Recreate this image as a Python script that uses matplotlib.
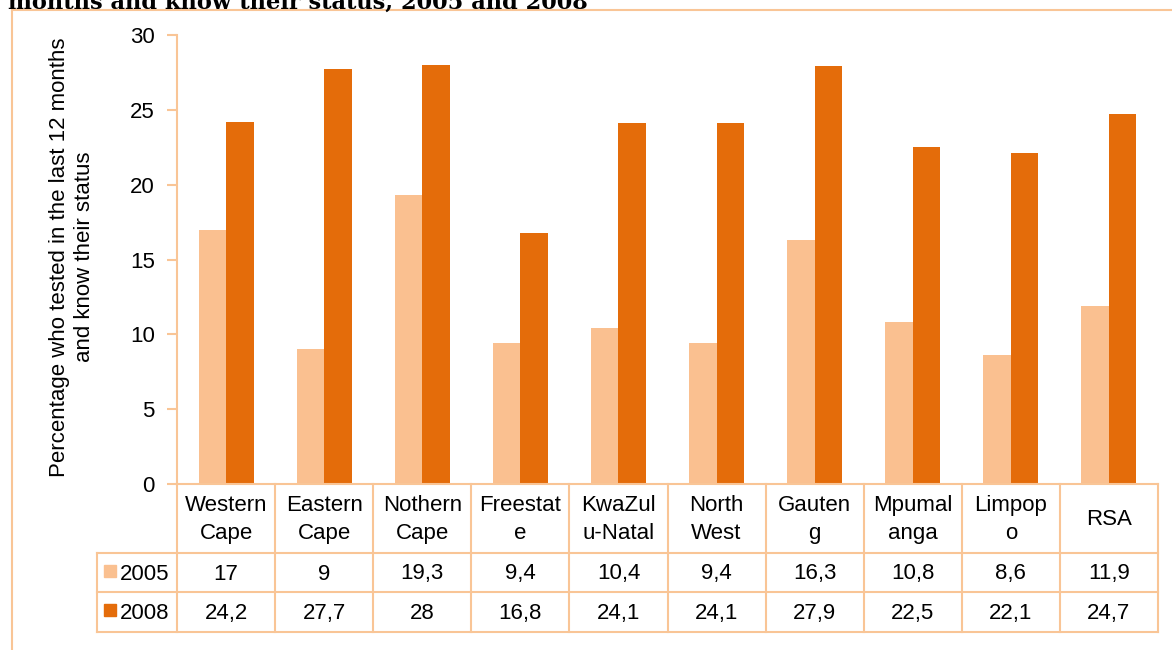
import matplotlib.pyplot as plt
from matplotlib.patches import Rectangle
from matplotlib.lines import Line2D
import matplotlib.transforms as mtransforms

plt.rcParams['font.family'] = ['Liberation Sans', 'DejaVu Sans']

# Data
regions = ['Western\nCape', 'Eastern\nCape', 'Nothern\nCape', 'Freestat\ne', 'KwaZul\nu-Natal',
           'North\nWest', 'Gauten\ng', 'Mpumal\nanga', 'Limpop\no', 'RSA']
years = ['2005', '2008']
vals_2005 = [17, 9, 19.3, 9.4, 10.4, 9.4, 16.3, 10.8, 8.6, 11.9]
vals_2008 = [24.2, 27.7, 28, 16.8, 24.1, 24.1, 27.9, 22.5, 22.1, 24.7]

c_light = '#FAC090'
c_dark = '#E46C0A'
grid_c = '#F9C596'

W, H = 1172, 650
fig = plt.figure(figsize=(W / 100, H / 100), dpi=100)

# axes in pixel geometry
x0, x1, ytop, ybot = 177, 1158, 35, 484
ax = fig.add_axes([x0 / W, 1 - ybot / H, (x1 - x0) / W, (ybot - ytop) / H])

x = list(range(len(regions)))
bw = 0.28
ax.bar([i - bw / 2 for i in x], vals_2005, bw, color=c_light)
ax.bar([i + bw / 2 for i in x], vals_2008, bw, color=c_dark)

ax.set_xlim(-0.5, len(regions) - 0.5)
ax.set_ylim(0, 30)
ax.set_yticks(range(0, 31, 5))
ax.tick_params(axis='y', labelsize=16, length=7, color=grid_c, width=1.5, pad=9)
ax.tick_params(axis='x', bottom=False, labelbottom=False)
for s in ['top', 'right', 'bottom']:
    ax.spines[s].set_visible(False)
ax.spines['left'].set_color(grid_c)
ax.spines['left'].set_linewidth(1.5)

# y label
fig.text(72 / W, 1 - 257 / H,
         'Percentage who tested in the last 12 months\nand know their status',
         rotation=90, ha='center', va='center', fontsize=16, linespacing=1.2)

# data table below the axes
trans = mtransforms.blended_transform_factory(ax.transData, ax.transAxes)
ah = ybot - ytop
def yfrac(py):
    return (ybot - py) / ah

rows_y = [484, 553, 592, 632]
lab_left = -0.5 - 80 / ((x1 - x0) / len(regions))
n = len(regions)
lk = dict(color=grid_c, lw=1.5, transform=trans, clip_on=False)

# horizontal lines
ax.add_line(Line2D([-0.5, n - 0.5], [yfrac(rows_y[0])] * 2, **lk))
for py in rows_y[1:]:
    ax.add_line(Line2D([lab_left, n - 0.5], [yfrac(py)] * 2, **lk))
# vertical lines
for k in range(n + 1):
    ax.add_line(Line2D([k - 0.5, k - 0.5], [yfrac(rows_y[0]), yfrac(rows_y[3])], **lk))
ax.add_line(Line2D([lab_left, lab_left], [yfrac(rows_y[1]), yfrac(rows_y[3])], **lk))

# header text
for i, r in enumerate(regions):
    ax.text(i, yfrac((rows_y[0] + rows_y[1]) / 2 + 1), r, transform=trans, ha='center',
            va='center', fontsize=16, linespacing=1.45)

def fmt(v):
    return f'{v:g}'.replace('.', ',')

for j, (yr, vals, col) in enumerate(zip(years, [vals_2005, vals_2008], [c_light, c_dark])):
    yc = yfrac((rows_y[j + 1] + rows_y[j + 2]) / 2 + 1.5)
    for i, v in enumerate(vals):
        ax.text(i, yc, fmt(v), transform=trans, ha='center', va='center', fontsize=16)
    # legend key + year label
    fig.patches.append(Rectangle((104 / W, 1 - (rows_y[j + 1] + 24) / H), 12 / W, 12 / H,
                                 transform=fig.transFigure, color=col))
    fig.text(120 / W, 1 - ((rows_y[j + 1] + rows_y[j + 2]) / 2 + 1.5) / H, yr,
             ha='left', va='center', fontsize=16)

# outer frame
fig.add_artist(Line2D([12 / W, 12 / W], [0, 1 - 10 / H], color=grid_c, lw=1.5))
fig.add_artist(Line2D([12 / W, 1], [1 - 10 / H, 1 - 10 / H], color=grid_c, lw=1.5))

# cropped title at the very top
fig.text(8 / W, 1 - 8.5 / H, 'months and know their status, 2005 and 2008',
         ha='left', va='baseline', fontsize=16.2, fontweight='bold', family='DejaVu Serif')

fig.savefig('out.png', dpi=100)
